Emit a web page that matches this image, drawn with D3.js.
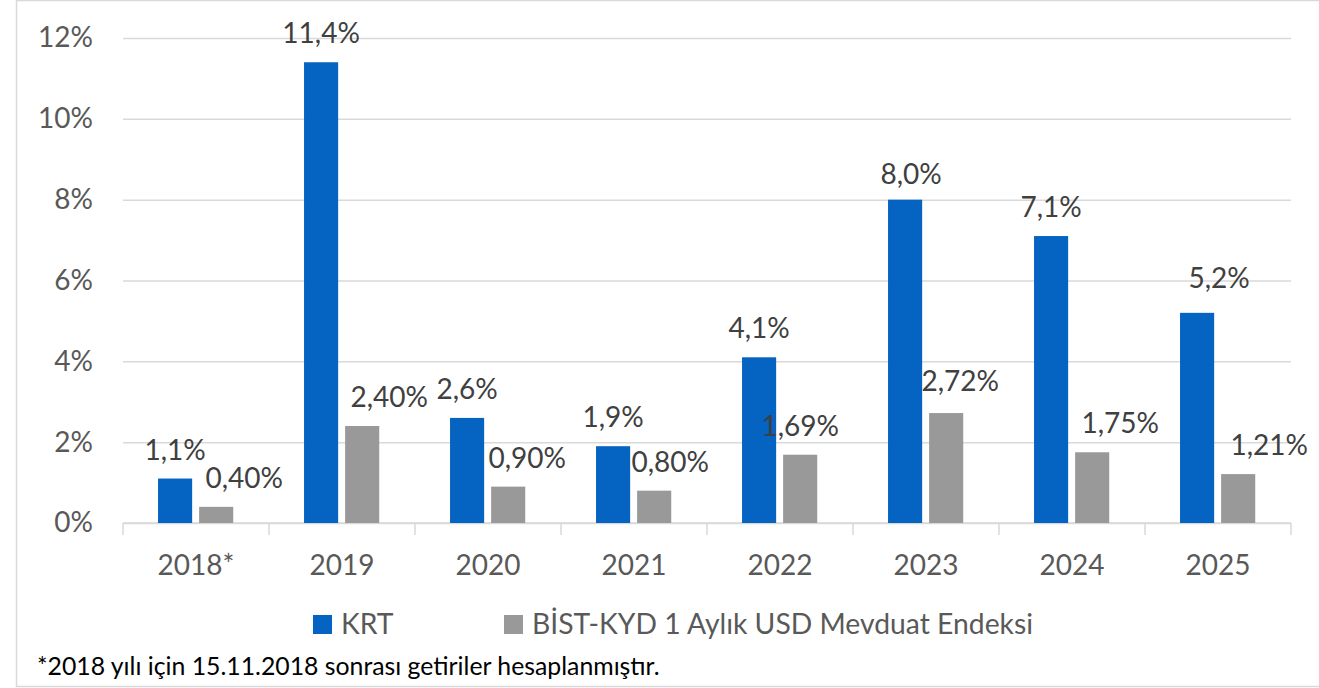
<!DOCTYPE html>
<html>
<head>
<meta charset="utf-8">
<script src="https://cdn.jsdelivr.net/npm/d3@7"></script>
<style>
  body { margin: 0; background: #fff; }
  text { font-family: Lato, "Open Sans", sans-serif; }
</style>
</head>
<body>
<div id="chart"></div>
<script>
// Data
const years = ["2018*", "2019", "2020", "2021", "2022", "2023", "2024", "2025"];
const krt = [1.1, 11.4, 2.6, 1.9, 4.1, 8.0, 7.1, 5.2];
const bist = [0.40, 2.40, 0.90, 0.80, 1.69, 2.72, 1.75, 1.21];
const seriesNames = ["KRT", "BİST-KYD 1 Aylık USD Mevduat Endeksi"];
const yTicks = [0, 2, 4, 6, 8, 10, 12];
const footnote = "*2018 yılı için 15.11.2018 sonrası getiriler hesaplanmıştır.";

// label nudges (Excel moved some labels by hand)
const krtNudge = [[0, 0], [0, 0], [0, 0], [0, 0], [0, 0], [6, 3], [0, 0], [22, -6]];
const bistNudge = [[28, 0], [27, 0], [19, 0], [16, 0], [0, 0], [14, -3], [28, 0], [31, 0]];

const W = 1319, H = 688;
const plotLeft = 123, plotRight = 1291, plotTop = 38, plotBottom = 523;

const colors = ["#0563c1", "#999999"];
const gridColor = "#d9d9d9";

const svg = d3.select("#chart")
    .append("svg")
    .attr("width", W)
    .attr("height", H);

// outer frame
svg.append("rect")
    .attr("x", 16.5).attr("y", 0.5)
    .attr("width", 1330).attr("height", 686)
    .attr("fill", "none")
    .attr("stroke", gridColor)
    .attr("stroke-width", 1.5);

const x0 = d3.scaleBand()
    .domain(years)
    .range([plotLeft, plotRight]);

const bw = x0.bandwidth();
const x1 = d3.scaleBand()
    .domain([0, 1])
    .range([bw * 0.24, bw * 0.755])
    .paddingInner(0.17);

const y = d3.scaleLinear()
    .domain([0, 12])
    .range([plotBottom, plotTop]);

// gridlines + y labels
const yAxis = svg.append("g")
    .attr("transform", `translate(${plotLeft},0)`)
    .call(d3.axisLeft(y)
        .tickValues(yTicks)
        .tickSize(-(plotRight - plotLeft))
        .tickPadding(30)
        .tickFormat(d => d + "%"));
yAxis.select(".domain").remove();
yAxis.selectAll(".tick line")
    .attr("stroke", gridColor)
    .attr("stroke-width", 1.5);
yAxis.selectAll(".tick text")
    .attr("fill", "#595959")
    .style("font-size", "28px")
    .style("font-family", "Lato, sans-serif");

// x axis line with boundary ticks
const xg = svg.append("g");
xg.append("line")
    .attr("x1", plotLeft).attr("x2", plotRight)
    .attr("y1", plotBottom).attr("y2", plotBottom)
    .attr("stroke", gridColor)
    .attr("stroke-width", 1.5);
xg.selectAll(".bound")
    .data(years.map(d => x0(d)).concat([plotRight]))
    .join("line")
    .attr("class", "bound")
    .attr("x1", d => d).attr("x2", d => d)
    .attr("y1", plotBottom).attr("y2", plotBottom + 12)
    .attr("stroke", gridColor)
    .attr("stroke-width", 1.5);

const xAxis = svg.append("g")
    .attr("transform", `translate(0,${plotBottom})`)
    .call(d3.axisBottom(x0).tickSize(0).tickPadding(32));
xAxis.select(".domain").remove();
xAxis.selectAll(".tick text")
    .attr("fill", "#595959")
    .style("font-size", "28px")
    .style("font-family", "Lato, sans-serif");

// bars
const rows = years.map((yr, i) => ({ year: yr, vals: [krt[i], bist[i]], i: i }));

const groups = svg.selectAll(".grp")
    .data(rows)
    .join("g")
    .attr("class", "grp")
    .attr("transform", d => `translate(${x0(d.year)},0)`);

groups.selectAll("rect")
    .data(d => d.vals.map((v, s) => ({ v: v, s: s, i: d.i })))
    .join("rect")
    .attr("x", d => x1(d.s))
    .attr("width", x1.bandwidth())
    .attr("y", d => y(d.v))
    .attr("height", d => plotBottom - y(d.v))
    .attr("fill", d => colors[d.s]);

// data labels
groups.selectAll(".lbl")
    .data(d => d.vals.map((v, s) => ({ v: v, s: s, i: d.i })))
    .join("text")
    .attr("class", "lbl")
    .attr("text-anchor", "middle")
    .attr("x", d => x1(d.s) + x1.bandwidth() / 2 + (d.s === 0 ? krtNudge : bistNudge)[d.i][0])
    .attr("y", d => y(d.v) - 19 + (d.s === 0 ? krtNudge : bistNudge)[d.i][1])
    .attr("fill", "#404040")
    .style("font-size", "28px")
    .text(d => d.v.toFixed(d.s === 0 ? 1 : 2).replace(".", ",") + "%");

// legend
const legendX = [313, 504];
const legend = svg.selectAll(".leg")
    .data(seriesNames)
    .join("g")
    .attr("class", "leg")
    .attr("transform", (d, i) => `translate(${legendX[i]},615)`);
legend.append("rect")
    .attr("width", 19).attr("height", 19)
    .attr("fill", (d, i) => colors[i]);
legend.append("text")
    .attr("x", 28).attr("y", 19)
    .attr("fill", "#595959")
    .style("font-size", "28.3px")
    .text(d => d);

// footnote
svg.append("text")
    .attr("x", 37).attr("y", 675)
    .attr("fill", "#000")
    .style("font-size", "24.8px")
    .text(footnote);
</script>
</body>
</html>
